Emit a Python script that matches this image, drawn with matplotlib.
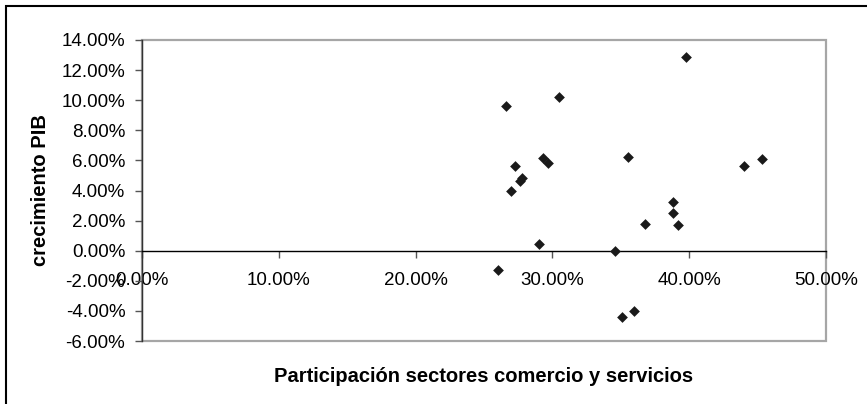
import matplotlib
matplotlib.use("Agg")
import matplotlib.pyplot as plt
from matplotlib.patches import Rectangle
from matplotlib.ticker import FuncFormatter, MultipleLocator

# participacion comercio y servicios (%) vs crecimiento PIB (%)
participacion = [26.6, 30.5, 27.3, 29.3, 29.7, 27.6, 27.8, 27.0, 35.5,
                 29.05, 34.55, 26.05, 35.1, 36.0, 39.8, 36.8, 38.8, 38.8,
                 39.2, 44.0, 45.3]
crecimiento = [9.6, 10.2, 5.6, 6.15, 5.8, 4.6, 4.85, 3.95, 6.2,
               0.45, 0.0, -1.25, -4.4, -4.0, 12.9, 1.8, 3.25, 2.5,
               1.7, 5.6, 6.1]

W, H = 867, 404
dpi = 100
plt.rcParams['font.family'] = ['Liberation Sans', 'DejaVu Sans']
fig = plt.figure(figsize=(W / dpi, H / dpi), dpi=dpi)

# plot area in pixels: x 142..826, y 40..341
ax = fig.add_axes([142 / W, 1 - 341 / H, 684 / W, 301 / H])

ax.scatter(participacion, crecimiento, marker='D', s=30, color='#1a1a1a',
           linewidths=0, zorder=3, clip_on=False)

ax.set_xlim(0, 50)
ax.set_ylim(-6, 14)
ax.xaxis.set_major_locator(MultipleLocator(10))
ax.yaxis.set_major_locator(MultipleLocator(2))
pct = FuncFormatter(lambda v, p: '%.2f%%' % v)
ax.xaxis.set_major_formatter(pct)
ax.yaxis.set_major_formatter(pct)

ax.spines['bottom'].set_position(('data', 0))
ax.spines['bottom'].set_color('black')
ax.spines['bottom'].set_linewidth(1.0)
ax.spines['left'].set_color('#333333')
ax.spines['left'].set_linewidth(1.0)
ax.spines['top'].set_visible(False)
ax.spines['right'].set_visible(False)

# gray frame of the plot area
ax.add_patch(Rectangle((0, 0), 1, 1, transform=ax.transAxes, fill=False,
                       edgecolor='#a6a6a6', linewidth=1.6, zorder=0,
                       clip_on=False))

ax.tick_params(axis='x', direction='out', length=5, width=1, color='#555555',
               pad=10, labelsize=13.5)
ax.tick_params(axis='y', direction='out', length=5, width=1, color='#555555',
               pad=7, labelsize=13.5)

ax.set_xlabel('Participación sectores comercio y servicios',
              fontweight='bold', fontsize=14.5)
ax.xaxis.set_label_coords(0.5, -0.085)
ax.set_ylabel('crecimiento PIB', fontweight='bold', fontsize=14.5)
ax.yaxis.set_label_coords(-0.1345, 0.5)

# outer chart border
fig.patches.append(Rectangle((6 / W, -0.05), 1.1, 1 - 6 / H + 0.05,
                             transform=fig.transFigure, fill=False,
                             edgecolor='black', linewidth=1.5))

fig.savefig('out.png', dpi=dpi)
